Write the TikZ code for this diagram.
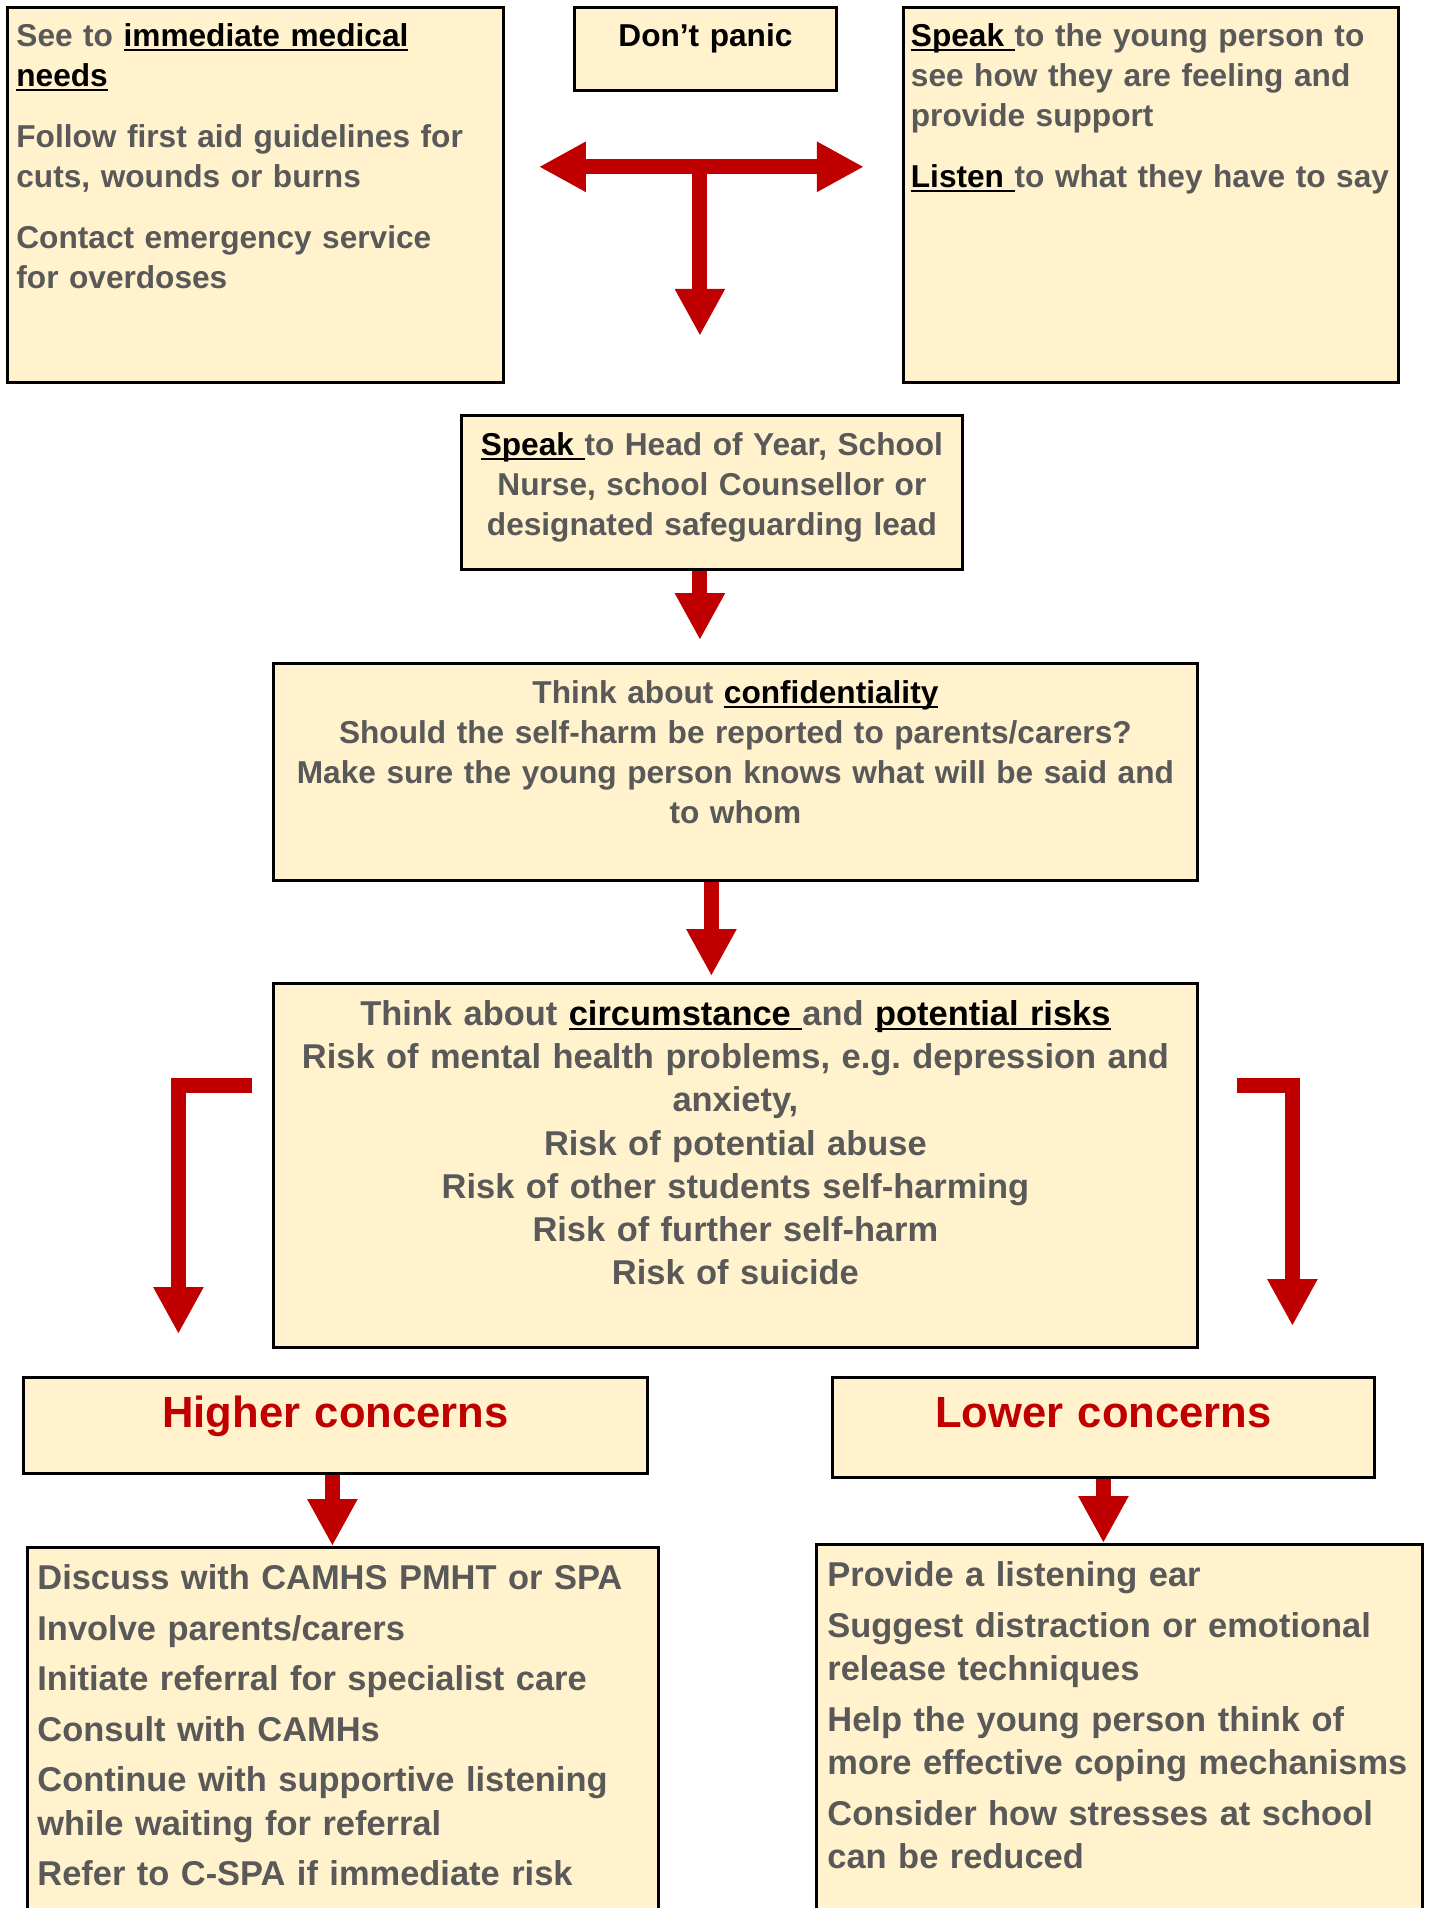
\documentclass[tikz,border=0pt]{standalone}
\usepackage{fontspec}
\setmainfont{Liberation Sans}
\usepackage{tikz}
\usetikzlibrary{arrows.meta, positioning}

\definecolor{panelfill}{HTML}{FFF2CC}
\definecolor{textgray}{HTML}{595959}
\definecolor{arrowred}{HTML}{C00000}
\newsavebox{\keybox}
\newcommand{\keyterm}[1]{\textcolor{black}{\sbox{\keybox}{#1}\rlap{\rule[-1.3pt]{\wd\keybox}{0.7pt}}\usebox{\keybox}}}
\frenchspacing

\begin{document}
\begin{tikzpicture}[
  panel/.style={draw=black, fill=panelfill, line width=0.8pt, anchor=north west, inner ysep=0pt, inner xsep=0.09cm, text=textgray, font=\fontsize{9.0pt}{11.4pt}\selectfont\bfseries},
  bigfont/.style={font=\fontsize{9.8pt}{12.3pt}\selectfont\bfseries},
  listfont/.style={font=\fontsize{9.8pt}{12.4pt}\selectfont\bfseries},
  headfont/.style={text=arrowred, font=\fontsize{12.4pt}{14pt}\selectfont\bfseries},
  redline/.style={line width=0.15cm, draw=arrowred, line join=miter},
  redarrow/.style={redline, -{Triangle[width=0.47cm, length=0.47cm]}},
  redboth/.style={redline, {Triangle[width=0.47cm, length=0.47cm]}-{Triangle[width=0.47cm, length=0.47cm]}}
]
\useasboundingbox (0,0) rectangle (14.31,-19.08);
\clip (0,0) rectangle (14.31,-19.08);

% First steps
\node[panel, text width=4.78cm, text height=0.39cm, text depth=3.36cm, align=left] (medical) at (0.06,-0.06) {See to \keyterm{immediate medical}\\\keyterm{needs}\\[0.21cm]Follow first aid guidelines for\\cuts, wounds or burns\\[0.21cm]Contact emergency service\\for overdoses};
\node[panel, text=black, text width=2.44cm, text height=0.39cm, text depth=0.44cm, align=center] (panic) at (5.73,-0.06) {Don’t panic};
\node[panel, inner xsep=0.075cm, text width=4.80cm, text height=0.39cm, text depth=3.36cm, align=left] (listen) at (9.02,-0.06) {\keyterm{Speak }to the young person to\\see how they are feeling and\\provide support\\[0.21cm]\keyterm{Listen }to what they have to say};

\coordinate[below=0.75cm of panic, xshift=-0.055cm] (tee);
\coordinate[left=1.61cm of tee] (teeL);
\coordinate[right=1.64cm of tee] (teeR);
\coordinate[below=1.69cm of tee] (teeTip);
\draw[redboth] (teeL) -- (teeR);
\draw[redarrow] (tee) -- (teeTip);

% Middle column
\node[panel, text width=4.83cm, text height=0.40cm, text depth=1.14cm, align=center] (speak) at (4.60,-4.14) {\keyterm{Speak }to Head of Year, School\\Nurse, school Counsellor or\\designated safeguarding lead};
\node[panel, text width=9.06cm, text height=0.40cm, text depth=1.77cm, align=center] (conf) at (2.72,-6.62) {Think about \keyterm{confidentiality}\\Should the self-harm be reported to parents/carers?\\Make sure the young person knows what will be said and\\to whom};
\node[panel, bigfont, text width=9.06cm, text height=0.42cm, text depth=3.22cm, align=center] (circ) at (2.72,-9.82) {Think about \keyterm{circumstance }and \keyterm{potential risks}\\Risk of mental health problems, e.g. depression and\\anxiety,\\Risk of potential abuse\\Risk of other students self-harming\\Risk of further self-harm\\Risk of suicide};

\draw[redarrow, shorten >=0.22cm] ([xshift=-0.12cm]speak.south) -- ([xshift=-0.12cm]speak.south |- conf.north);
\draw[redarrow, shorten >=0.06cm] ([xshift=-0.24cm]conf.south) -- ([xshift=-0.24cm]conf.south |- circ.north);

% Two outcomes
\node[panel, headfont, text width=6.06cm, text height=0.50cm, text depth=0.46cm, align=center] (higher) at (0.22,-13.76) {Higher concerns};
\node[panel, headfont, text width=5.24cm, text height=0.50cm, text depth=0.50cm, align=center] (lower) at (8.31,-13.76) {Lower concerns};

\draw[redarrow, shorten >=0.42cm] ([shift={(-0.2,0.8)}]circ.west) -| ([xshift=-1.57cm]higher.north);
\draw[redarrow, shorten >=0.50cm] ([shift={(0.38,0.8)}]circ.east) -| ([xshift=1.89cm]lower.north);

\node[panel, listfont, inner xsep=0.10cm, text width=6.11cm, text height=0.42cm, text depth=4.6cm, align=left] (hlist) at (0.26,-15.46) {Discuss with CAMHS PMHT or SPA\\[0.07cm]Involve parents/carers\\[0.07cm]Initiate referral for specialist care\\[0.07cm]Consult with CAMHs\\[0.07cm]Continue with supportive listening\\while waiting for referral\\[0.07cm]Refer to C-SPA if immediate risk};
\node[panel, listfont, inner xsep=0.11cm, text width=5.84cm, text height=0.42cm, text depth=4.6cm, align=left] (llist) at (8.15,-15.43) {Provide a listening ear\\[0.07cm]Suggest distraction or emotional\\release techniques\\[0.07cm]Help the young person think of\\more effective coping mechanisms\\[0.07cm]Consider how stresses at school\\can be reduced};

\draw[redarrow] ([xshift=-0.03cm]higher.south) -- ([xshift=-0.03cm]higher.south |- hlist.north);
\draw[redarrow] (lower.south) -- (lower.south |- llist.north);

\end{tikzpicture}
\end{document}
